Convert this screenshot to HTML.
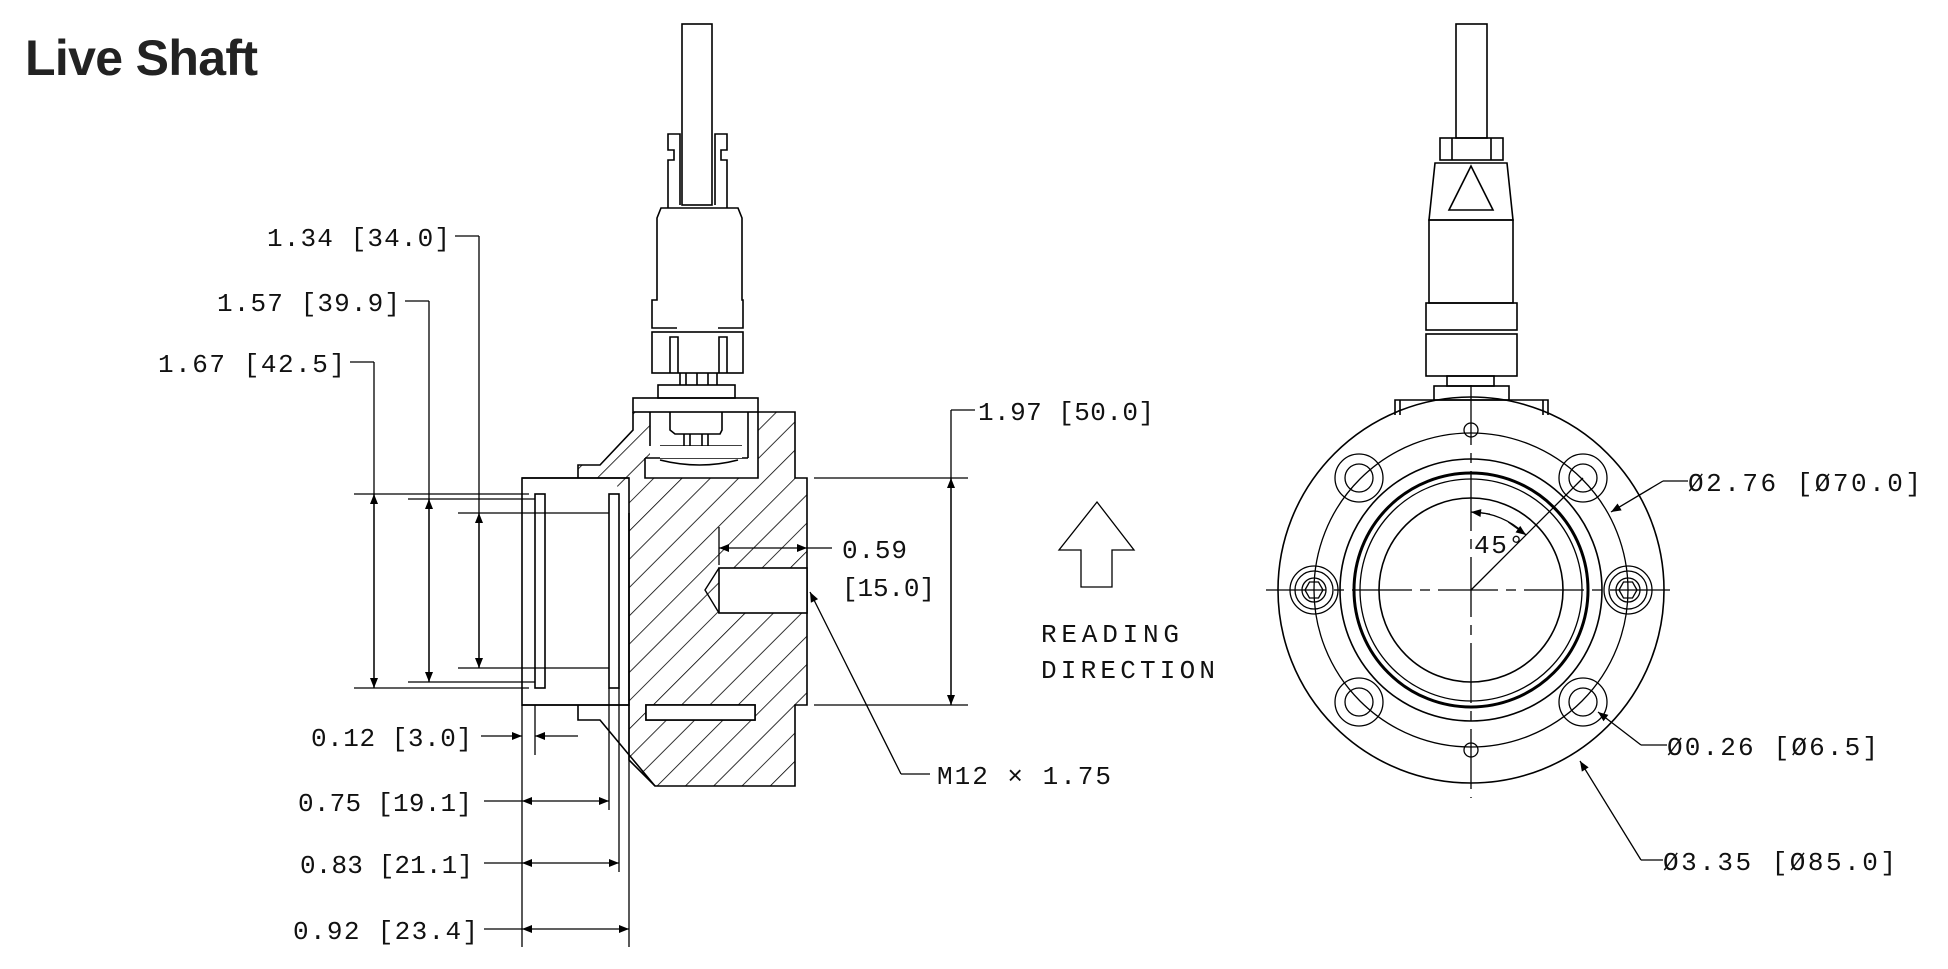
<!DOCTYPE html>
<html><head><meta charset="utf-8"><style>
html,body{margin:0;padding:0;background:#fff;}
svg{display:block;}
.t{font-family:"Liberation Mono",monospace;font-size:26px;fill:#111;}
</style></head><body>
<svg width="1948" height="969" viewBox="0 0 1948 969" xmlns="http://www.w3.org/2000/svg">
<defs>
<marker id="a" viewBox="0 0 10 10" refX="10" refY="5" markerWidth="18" markerHeight="10" markerUnits="userSpaceOnUse" orient="auto-start-reverse"><path d="M0,1 L10,5 L0,9 Z" fill="#000"/></marker>
<pattern id="h" patternUnits="userSpaceOnUse" width="20" height="20" patternTransform="rotate(45)"><line x1="0" y1="0" x2="0" y2="20" stroke="#000" stroke-width="1.6"/></pattern>
</defs>
<text x="25" y="75" font-family="Liberation Sans, sans-serif" font-weight="bold" font-size="50" textLength="233" fill="#222">Live Shaft</text>

<g fill="none" stroke="#000" stroke-width="1.6">
<rect x="682" y="24" width="30" height="181"/>
<path d="M668,208 V160 H674 V150 H668 V134 H680 V205 M727,208 V160 H721 V150 H727 V134 H715 V205"/>
<path d="M718,328 H743 V300 H742 V218 L738,208 H661 L657,218 V300 H652 V328 H677"/>
<rect x="652" y="332" width="91" height="41"/>
<path d="M670,373 V337 H678 V373 M719,373 V337 H727 V373 M680,373 V385 M717,373 V385 M686,373 V385 M697,373 V385 M708,373 V385"/>
<rect x="658" y="385" width="77" height="13"/>
<rect x="633" y="398" width="125" height="14"/>
<path d="M670,412 V430 L675,434 H720 L722,430 V412 M684,434 V450 H690 V434 M702,434 V450 H708 V434 M660,446 H742 M650,412 V446 M748,412 V458 M645,458 H748 M660,460 Q700,470 738,460"/>
<path d="M522,478 H629 M578,478 V465 H600 L633,430 V412 M645,458 V478 H758 V412 H795 V478 H807 V705 H795 V786 H655 L629,760 V705"/>
<rect x="522" y="478" width="107" height="227"/>
<path d="M629,513 V705 M522,705 H629 M578,705 V720 H600 L655,786"/>
<rect x="535" y="494" width="10" height="194"/>
<rect x="609" y="494" width="10" height="194"/>
<rect x="646" y="705" width="109" height="15"/>
</g>
<path d="M629,513 V478 H758 V412 H795 V478 H807 V705 H795 V786 H655 L629,760 Z M578,478 V465 H600 L633,430 V412 H650 V458 H645 V478 Z M629,478 L610,478 L629,500 Z" fill="url(#h)" stroke="none"/>
<rect x="719" y="568" width="88" height="45" fill="#fff" stroke="#000" stroke-width="1.6"/>
<path d="M719,568 L705,590 L719,613" fill="none" stroke="#000" stroke-width="1.4"/>
<rect x="646" y="705" width="109" height="15" fill="#fff" stroke="#000" stroke-width="1.6"/>
<rect x="660" y="446" width="82" height="12" fill="#fff" stroke="none"/>

<g fill="none" stroke="#000" stroke-width="1.3">
<path d="M354,494 H529 M354,688 H529 M408,499 H535 M408,682 H535 M458,513 H609 M458,668 H609"/>
<path d="M374,362 V688 M350,362 H374 M429,301 V682 M405,301 H429 M479,236 V668 M455,236 H479"/>
<line x1="374" y1="560" x2="374" y2="494" marker-end="url(#a)"/><line x1="374" y1="560" x2="374" y2="688" marker-end="url(#a)"/>
<line x1="429" y1="560" x2="429" y2="499" marker-end="url(#a)"/><line x1="429" y1="560" x2="429" y2="682" marker-end="url(#a)"/>
<line x1="479" y1="560" x2="479" y2="513" marker-end="url(#a)"/><line x1="479" y1="560" x2="479" y2="668" marker-end="url(#a)"/>
<path d="M522,705 V947 M535,705 V755 M609,688 V810 M619,688 V872 M629,705 V947"/>
<line x1="481" y1="736" x2="522" y2="736" marker-end="url(#a)"/><line x1="578" y1="736" x2="535" y2="736" marker-end="url(#a)"/>
<line x1="484" y1="801" x2="522" y2="801"/><line x1="565" y1="801" x2="522" y2="801" marker-end="url(#a)"/><line x1="565" y1="801" x2="609" y2="801" marker-end="url(#a)"/>
<line x1="484" y1="863" x2="522" y2="863"/><line x1="570" y1="863" x2="522" y2="863" marker-end="url(#a)"/><line x1="570" y1="863" x2="619" y2="863" marker-end="url(#a)"/>
<line x1="484" y1="929" x2="522" y2="929"/><line x1="575" y1="929" x2="522" y2="929" marker-end="url(#a)"/><line x1="575" y1="929" x2="629" y2="929" marker-end="url(#a)"/>
<path d="M814,478 H968 M814,705 H968 M951,410 H975 M951,410 V705"/>
<line x1="951" y1="590" x2="951" y2="478" marker-end="url(#a)"/><line x1="951" y1="590" x2="951" y2="705" marker-end="url(#a)"/>
<path d="M719,527 V565"/>
<line x1="760" y1="548" x2="719" y2="548" marker-end="url(#a)"/><line x1="760" y1="548" x2="807" y2="548" marker-end="url(#a)"/><line x1="807" y1="548" x2="832" y2="548"/>
<line x1="901" y1="774" x2="930" y2="774"/><line x1="901" y1="774" x2="810" y2="592" marker-end="url(#a)"/>
<path d="M1097,502 L1134,550 H1112 V587 H1081 V550 H1059 Z"/>
</g>
<g class="t">
<text x="267" y="246" textLength="183">1.34 [34.0]</text>
<text x="217" y="311" textLength="183">1.57 [39.9]</text>
<text x="158" y="372" textLength="187">1.67 [42.5]</text>
<text x="311" y="746" textLength="161">0.12 [3.0]</text>
<text x="298" y="811" textLength="174">0.75 [19.1]</text>
<text x="300" y="873" textLength="173">0.83 [21.1]</text>
<text x="293" y="939" textLength="185">0.92 [23.4]</text>
<text x="978" y="420" textLength="176">1.97 [50.0]</text>
<text x="842" y="558" textLength="65">0.59</text>
<text x="842" y="596" textLength="93">[15.0]</text>
<text x="937" y="784" textLength="174">M12 × 1.75</text>
<text x="1041" y="642" textLength="138">READING</text>
<text x="1041" y="678" textLength="174">DIRECTION</text>
<text x="1474" y="553" textLength="50">45°</text>
<text x="1688" y="491" textLength="233">Ø2.76 [Ø70.0]</text>
<text x="1667" y="755" textLength="211">Ø0.26 [Ø6.5]</text>
<text x="1663" y="870" textLength="233">Ø3.35 [Ø85.0]</text>
</g>

<g fill="none" stroke="#000" stroke-width="1.6">
<rect x="1456" y="24" width="31" height="114"/>
<rect x="1440" y="138" width="63" height="22"/>
<path d="M1452,138 V160 M1491,138 V160"/>
<path d="M1435,163 H1507 L1513,220 H1429 Z"/>
<path d="M1471,166 L1449,210 H1493 Z"/>
<rect x="1429" y="220" width="84" height="83"/>
<rect x="1426" y="303" width="91" height="27"/>
<rect x="1426" y="334" width="91" height="42"/>
<rect x="1447" y="376" width="47" height="10"/>
<rect x="1434" y="386" width="75" height="14"/>
<path d="M1395,415 V400 H1548 V415 M1400,400 V415 M1543,400 V415"/>
<circle cx="1471" cy="590" r="193"/>
<circle cx="1471" cy="590" r="157" stroke-width="1.3"/>
<circle cx="1471" cy="590" r="131"/>
<circle cx="1471" cy="590" r="117" stroke-width="3"/>
<circle cx="1471" cy="590" r="111" stroke-width="1.3"/>
<circle cx="1471" cy="590" r="92"/>
<g stroke-width="1.3">
<circle cx="1359" cy="478" r="24"/><circle cx="1359" cy="478" r="14"/>
<circle cx="1583" cy="478" r="24"/><circle cx="1583" cy="478" r="14"/>
<circle cx="1359" cy="702" r="24"/><circle cx="1359" cy="702" r="14"/>
<circle cx="1583" cy="702" r="24"/><circle cx="1583" cy="702" r="14"/>
<circle cx="1314" cy="590" r="24"/><circle cx="1314" cy="590" r="19"/><circle cx="1314" cy="590" r="12"/>
<path d="M1305,590 L1309.5,582 H1318.5 L1323,590 L1318.5,598 H1309.5 Z"/>
<circle cx="1628" cy="590" r="24"/><circle cx="1628" cy="590" r="19"/><circle cx="1628" cy="590" r="12"/>
<path d="M1619,590 L1623.5,582 H1632.5 L1637,590 L1632.5,598 H1623.5 Z"/>
<circle cx="1471" cy="430" r="7"/><circle cx="1471" cy="750" r="7"/>
<path d="M1266,590 H1676 M1471,385 V798" stroke-dasharray="60 8 10 8"/>
<line x1="1471" y1="590" x2="1583" y2="478"/>
<path d="M1471,512 A78,78 0 0 1 1526,535" />
</g>
</g>
<line x1="1490" y1="514" x2="1471" y2="512" stroke="#000" marker-end="url(#a)"/>
<line x1="1508" y1="522" x2="1526" y2="535" stroke="#000" marker-end="url(#a)"/>
<g fill="none" stroke="#000" stroke-width="1.3">
<path d="M1688,481 H1663"/><line x1="1663" y1="481" x2="1611" y2="512" marker-end="url(#a)"/>
<path d="M1667,745 H1641"/><line x1="1641" y1="745" x2="1598" y2="712" marker-end="url(#a)"/>
<path d="M1663,860 H1641"/><line x1="1641" y1="860" x2="1580" y2="761" marker-end="url(#a)"/>
</g>
</svg>
</body></html>
